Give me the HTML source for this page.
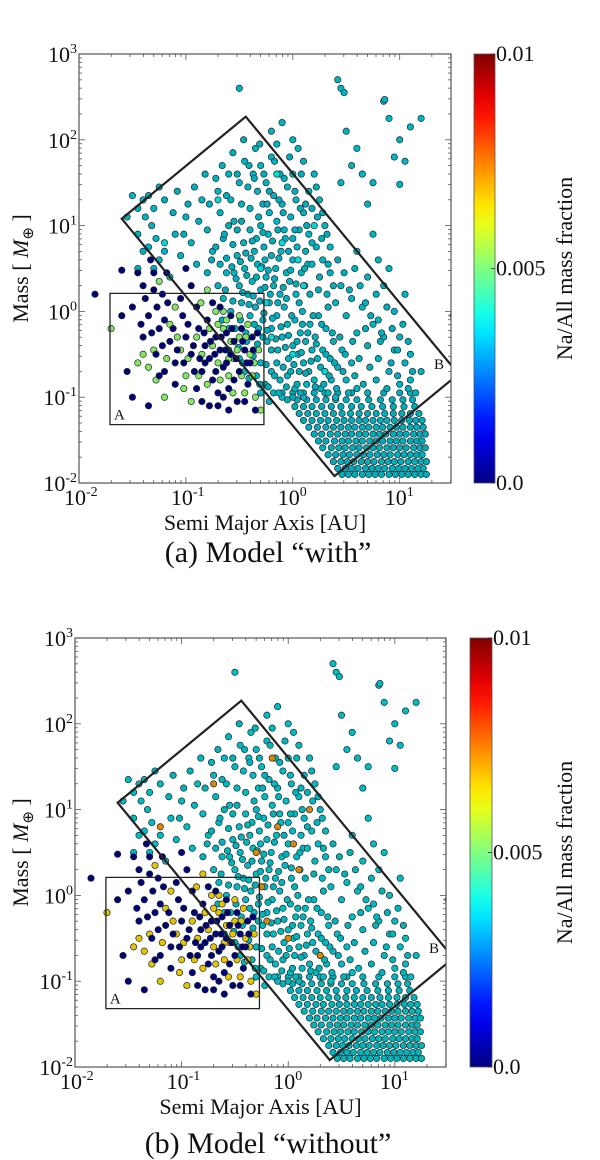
<!DOCTYPE html>
<html><head><meta charset="utf-8"><title>Planet population: Na/All mass fraction</title>
<style>
html,body{margin:0;padding:0;background:#fff;}
svg{display:block;}
text{font-family:"Liberation Serif",serif;fill:#111;}
</style></head>
<body>
<svg id="fig" width="600" height="1160" viewBox="0 0 600 1160" xmlns="http://www.w3.org/2000/svg"></svg>
<script>
// ---------- data (log10 semi-major axis [AU], log10 mass [M_earth]) ----------
const xTicks = [-2, -1, 0, 1];
const yTicks = [-2, -1, 0, 1, 2, 3];
const cbTickValues = [0.0, 0.005, 0.01];
const cbTickLabels = ["0.0", "0.005", "0.01"];
const panelCaptions = ["(a) Model \u201cwith\u201d", "(b) Model \u201cwithout\u201d"];

// dense low-mass block (rows of constant log mass)
const blockMass = [-1.90,-1.83,-1.75,-1.67,-1.59,-1.51,-1.43,-1.35,-1.27,-1.19,-1.11,-1.03,-0.95];
const blockAxis = [
 [.46,.52,.58,.65,.71,.77,.83,.90,.96,1.02,1.08,1.14,1.20,1.25],
 [.42,.49,.55,.61,.68,.74,.80,.86,.93,.99,1.05,1.11,1.17,1.22],
 [.38,.45,.51,.57,.64,.70,.76,.83,.89,.95,1.01,1.08,1.14,1.20,1.25],
 [.33,.40,.47,.53,.60,.66,.72,.79,.85,.91,.98,1.04,1.10,1.16,1.21],
 [.28,.36,.43,.49,.56,.62,.69,.75,.81,.88,.94,1.00,1.06,1.13,1.19,1.24],
 [.24,.31,.39,.46,.52,.59,.65,.72,.78,.84,.91,.97,1.03,1.10,1.16,1.21],
 [.20,.27,.35,.42,.49,.55,.62,.68,.75,.81,.87,.94,1.00,1.06,1.13,1.19,1.24],
 [.15,.23,.31,.38,.45,.52,.58,.65,.71,.78,.84,.91,.97,1.03,1.10,1.16,1.22],
 [.10,.18,.26,.33,.41,.48,.55,.62,.68,.75,.82,.88,.95,1.02,1.09,1.15,1.21],
 [.06,.14,.22,.30,.38,.46,.54,.62,.70,.78,.86,.94,1.02,1.10,1.18],
 [.02,.10,.18,.27,.36,.45,.55,.64,.74,.84,.94,1.04,1.14],
 [-.05,.04,.13,.22,.31,.40,.50,.60,.71,.82,.93,1.03,1.12],
 [-.1,.0,.1,.2,.3,.42,.55,.7,.85,1.0,1.1]
];
// cyan planets (diagonal band, upper region, outliers)
const cyanPlanets = [
[-0.55,0.45],[-0.5,0.3],[-0.45,0.5],[-0.42,0.2],[-0.38,0.35],[-0.35,0.05],[-0.33,0.55],[-0.3,0.25],[-0.28,-0.1],[-0.25,0.4],[-0.22,0.1],[-0.2,-0.2],[-0.18,0.3],[-0.15,-0.05],[-0.12,0.2],[-0.1,-0.3],[-0.08,0.05],[-0.05,-0.15],[-0.03,0.35],[0,-0.4],[0.02,-0.1],[0.05,-0.5],[0.07,-0.25],[0.1,-0.6],[0.12,-0.35],[0.15,-0.7],[0.18,-0.45],[0.2,-0.8],[0.23,-0.55],[0.26,-0.9],[0.3,-0.7],[0.33,-0.95],[0.36,-0.8],[0.4,-1.0],
[-0.48,0.1],[-0.4,-0.05],[-0.36,0.7],[-0.32,-0.2],[-0.26,0.6],[-0.24,-0.35],[-0.16,0.5],[-0.14,-0.45],[-0.06,0.45],[-0.04,-0.55],[0.03,0.2],[0.06,-0.7],[0.09,0.0],[0.13,-0.85],[0.16,-0.15],[0.21,-0.3],[0.24,-0.05],[0.28,-0.45],[0.31,-0.2],[0.35,-0.55],[0.38,-0.35],[0.42,-0.65],[0.46,-0.45],[0.5,-0.8],[0.55,-0.6],[0.6,-0.9],
[-0.52,0.65],[-0.46,0.8],[-0.4,0.95],[-0.34,0.85],[-0.3,1.0],[-0.27,0.75],[-0.23,0.9],[-0.2,0.65],[-0.11,0.7],[-0.07,0.85],[0.0,0.6],[0.04,0.75],[0.08,0.45],[0.11,0.3],[0.14,0.55],
[-0.7,0.3],[-0.65,0.15],[-0.62,0.45],[-0.58,0.0],[-0.6,-0.2],[-0.55,-0.35],[-0.5,-0.55],[-0.45,-0.7],[-0.44,-0.25],[-0.38,-0.5],[-0.34,-0.75],[-0.3,-0.6],[-0.26,-0.85],[-0.2,-0.7],[-0.18,-0.95],[-0.12,-0.8],[-0.1,-1.0],[-0.3,-0.95],[-0.22,-1.05],[-0.05,-0.75],[0.02,-0.9],[0.1,-1.0],
[-1.4,1.3],[-1.38,1.1],[-1.35,1.35],[-1.3,1.2],[-1.32,1.0],[-1.28,0.85],[-1.25,0.6],[-1.3,0.5],[-1.2,0.7],[-1.15,0.4],[-1.1,0.9],[-1.05,0.65],[-1.0,1.1],[-0.95,0.8],[-0.9,0.55],[-0.85,1.3],[-0.8,0.95],[-0.75,0.7],[-0.7,1.4],[-0.68,1.15],[-0.65,0.85],[-0.6,1.6],[-0.58,1.3],[-0.55,1.05],[-0.5,1.5],[-0.48,1.25],[-0.45,1.75],[-0.42,1.45],[-0.4,1.2],[-0.37,1.6],[-0.35,1.9],[-0.33,1.4],[-0.3,1.7],[-0.28,1.25],[-0.25,1.5],[-0.22,1.15],[-0.2,1.8],[-0.18,1.35],[-0.15,1.05],[-0.12,1.6],[-0.1,1.25],[-0.08,0.95],[-0.05,1.45],[-0.02,1.1],[0.0,0.85],[0.03,1.3],[0.06,0.95],[0.1,1.15],[0.12,0.7],[0.15,0.9],[0.18,0.55],[0.22,0.75],[0.25,0.4],[0.28,0.6],[0.32,0.2],[0.35,0.45],[0.4,0.1],[0.45,0.3],[0.5,-0.05],[0.55,0.15],[0.6,-0.25],[0.65,0.05],[0.7,-0.4],[0.75,-0.15],[0.8,-0.55],[0.85,-0.3],[0.9,-0.7],[0.95,-0.45],[1.0,-0.85],[1.05,-0.6],[1.1,-0.8],[1.15,-0.95],
[-1.5,1.35],[-1.45,1.2],[-1.55,1.1],[-1.45,0.9],[-1.4,0.7],[-1.45,0.5],[-1.35,0.75],
[-0.2,2.1],[-0.1,2.2],[0.0,2.0],[0.05,1.9],[0.1,1.75],[-0.15,1.95],[0.2,1.6],[0.25,1.3],[0.3,1.0],[0.35,0.75],[0.15,1.4],[0.0,1.6],
[0.5,2.1],[0.6,1.9],[0.55,1.7],[0.45,1.5],[0.65,1.6],[0.7,1.25],[0.75,0.9],[0.8,0.6],[0.85,0.3],[0.95,0.0],[1.0,-0.3],[1.1,-0.5],[1.2,-0.7],[0.9,2.25],[1.0,2.0],[0.95,1.8],[1.0,1.48],[1.05,1.75],[1.1,2.15],[1.2,2.25],[0.45,2.6],[0.48,2.55],[0.42,2.7],[0.85,2.45],[0.86,2.47],[-0.5,2.6],[1.5,-0.05],[0.7,0.4],[0.6,0.7],[0.9,0.5],[1.05,0.2],[0.8,-0.1],[0.75,1.5]
];
// extra band planets (dense diagonal ridge)
const bandPlanets = [
[-0.62,0.62],[-0.57,0.52],[-0.53,0.38],[-0.49,0.58],[-0.47,0.22],[-0.43,0.42],[-0.41,0.08],[-0.39,0.62],[-0.37,0.18],[-0.36,-0.15],[-0.34,0.4],[-0.31,0.12],[-0.29,0.52],[-0.27,-0.02],[-0.26,0.28],[-0.24,-0.22],[-0.23,0.48],[-0.21,0.2],[-0.19,-0.08],[-0.17,0.38],[-0.16,-0.32],[-0.14,0.1],[-0.13,0.62],[-0.11,-0.18],[-0.09,0.28],[-0.07,-0.42],[-0.06,0.15],[-0.04,-0.28],[-0.02,0.48],[-0.01,-0.05],[0.01,-0.62],[0.03,0.32],[0.04,-0.35],[0.06,0.1],[0.08,-0.48],[0.09,-0.15],[0.11,0.5],[0.12,-0.72],[0.14,-0.25],[0.16,0.2],[0.17,-0.58],[0.19,-0.05],[0.21,-0.88],[0.22,-0.38],[0.24,0.25],[0.26,-0.65],[0.27,-0.15],[0.29,-0.85],[0.31,-0.5],[0.33,0.05],[0.34,-0.75],[0.37,-0.25],[0.39,-0.6],[0.41,-0.9],[0.44,-0.3],[0.47,-0.7],[0.49,-0.5],[0.52,-0.95],[0.56,-0.35],[0.58,-0.75],[0.62,-0.55],[0.66,-0.85],[0.68,-0.2],[0.72,-0.65],[0.78,-0.8],[0.82,-0.35],[0.88,-0.9],[0.92,-0.6],[0.98,-0.75],[1.08,-0.9],[1.12,-0.7],
[-0.66,-0.1],[-0.63,0.25],[-0.6,-0.45],[-0.56,0.12],[-0.54,-0.2],[-0.51,-0.42],[-0.49,-0.1],[-0.47,-0.6],[-0.43,-0.35],[-0.41,-0.78],[-0.37,-0.52],[-0.33,-0.38],[-0.31,-0.85],[-0.28,-0.3],[-0.25,-0.62],[-0.23,-0.88],[-0.2,-0.45],[-0.17,-0.75],[-0.15,-0.6],[-0.13,-0.95],[-0.09,-0.65],[-0.06,-0.88],[-0.02,-0.7],[0.0,-1.0],[0.04,-0.85],[0.07,-0.95],
[-0.8,0.45],[-0.76,0.6],[-0.72,0.75],[-0.68,0.55],[-0.64,0.9],[-0.6,1.0],[-0.56,0.78],[-0.52,0.95],[-0.48,1.05],[-0.44,0.68],[-0.38,0.82],[-0.32,1.1],[-0.28,0.92],[-0.24,1.25],[-0.19,0.82],[-0.14,0.95],[-0.09,1.15],[-0.04,0.7],[0.02,0.95],[0.07,1.2],[0.13,1.0],[0.18,0.8],[0.23,1.1],[0.27,0.85],[0.33,0.55],[0.38,0.3],[0.42,0.6],[0.48,0.45],[0.53,0.25],[0.58,0.5],[0.63,0.3],[0.68,0.1],[0.73,-0.05],[0.78,0.2],[0.83,-0.25],[0.88,0.05],[0.93,-0.2],[0.98,-0.45],[1.03,-0.15],[1.08,-0.35],
[-1.25,1.45],[-1.2,1.3],[-1.12,1.15],[-1.08,1.4],[-1.02,0.9],[-0.98,1.25],[-0.92,1.45],[-0.88,1.05],[-0.82,1.6],[-0.78,1.25],[-0.72,1.55],[-0.66,1.7],[-0.62,1.35],[-0.56,1.85],[-0.52,1.6],[-0.46,2.0],[-0.41,1.7],[-0.36,1.55],[-0.31,1.95],[-0.27,1.6],[-0.22,1.4],[-0.17,1.75],[-0.13,1.3],[-0.08,1.55],[-0.03,1.8],[0.02,1.4],[0.08,1.6],[0.12,1.25],[0.18,1.2],[0.22,1.45],[0.28,1.15],[0.32,0.9]
];
// planets with no Na (dark blue) in region A
const bluePlanets = [
[-1.85,0.2],[-1.6,-0.05],[-1.55,-0.7],[-1.5,-1.0],[-1.45,0.45],[-1.4,-0.3],[-1.35,-0.05],[-1.3,0.25],[-1.28,-0.5],[-1.25,-0.2],[-1.2,-0.1],[-1.15,-0.35],[-1.1,-0.6],[-1.05,0.15],[-1.0,-0.3],[-0.95,-0.5],[-0.9,-0.9],[-0.88,-0.2],[-0.85,-0.7],[-0.82,-0.4],[-0.8,-0.1],[-0.78,-0.55],[-0.75,-0.8],[-0.72,-0.3],[-0.7,-1.1],[-0.68,-0.45],[-0.65,-0.65],[-0.62,-0.25],[-0.6,-0.9],[-0.58,-0.5],[-0.55,-0.35],[-0.52,-1.05],[-0.5,-0.7],[-0.48,-0.2],[-0.45,-0.45],[-0.42,-0.85],[-0.4,-0.6],[-0.38,-0.3],[-0.35,-1.15],[-0.9,0.05],[-1.18,0.45],[-1.0,0.5],[-0.95,0.3],[-0.75,0.1],[-1.22,0.2],[-1.33,0.6],[-1.25,-0.75],[-0.7,-0.95],[-0.6,-1.15],[-0.85,-1.05],[-1.6,0.48],[-1.1,-0.85],
[-1.5,0.05],[-1.42,-0.15],[-1.38,0.15],[-1.32,-0.25],[-1.27,0.05],[-1.22,-0.4],[-1.17,0.1],[-1.12,-0.2],[-1.08,-0.45],[-1.03,-0.05],[-0.98,-0.15],[-0.93,-0.4],[-0.87,-0.55],[-0.83,-0.25],[-0.77,-0.35],[-0.73,-0.5],[-0.67,-0.3],[-0.63,-0.45],[-0.57,-0.2],[-0.53,-0.55],[-0.47,-0.35],[-0.43,-0.6],[-0.37,-0.45],[-0.33,-0.25],[-0.62,-0.6],[-0.72,-0.7],[-0.82,-0.6],[-0.92,-0.7],[-1.02,-0.6],[-0.55,-0.8],[-0.45,-1.05],[-0.65,-1.0],[-0.78,-1.1],[-1.2,-0.7],[-1.35,-1.1],[-1.4,0.3],[-1.3,0.45],[-0.58,-0.05],[-0.68,0.05]
];
// planets that are green in "with" and yellow in "without"
const greenPlanets = [
[-1.7,-0.2],[-1.45,-0.6],[-1.35,-0.65],[-1.3,-0.45],[-1.2,-1.0],[-1.15,-0.15],[-1.05,-0.45],[-1.0,-0.75],[-0.95,-1.05],[-0.9,-0.3],[-0.85,-0.5],[-0.8,-0.85],[-0.75,-0.4],[-0.7,-0.6],[-0.65,-0.2],[-0.6,-0.75],[-0.55,-0.55],[-0.5,-0.3],[-0.45,-0.95],[-0.42,-0.15],[-0.38,-0.75],[-0.35,-1.0],[-0.32,-0.45],[-0.3,-1.15],[-1.1,0.05],[-0.8,0.25],[-0.65,0.0],[-0.5,-0.05],[-0.7,-0.15],[-0.58,-0.35],[-1.25,0.35],[-0.4,-0.5],
[-1.4,-0.5],[-1.28,-0.8],[-1.18,-0.55],[-1.08,-0.3],[-0.98,-0.55],[-0.88,-0.75],[-0.78,-0.2],[-0.68,-0.8],[-0.6,-0.55],[-0.52,-0.45],[-0.44,-0.3],[-0.36,-0.6],[-0.62,-0.1],[-0.72,0.0],[-0.56,-0.95],[-0.48,-0.75],[-0.86,0.1],[-1.02,-0.9]
];
// planets cyan in "with", orange in "without"
const mixedPlanets = [
[-0.3,0.5],[-0.2,-0.3],[-0.1,0.8],[0.1,0.3],[-1.2,0.8],[-0.7,1.3],[0.0,-0.5],[-0.15,1.6],[0.05,0.6],[0.3,-0.7],[-0.25,0.1],[0.2,1.0]
];
// Na/All value per group: [model with, model without]
const cyanValue = [0.0036, 0.0037];
const blueValue = [0.0, 0.0];
const greenValue = [0.0052, 0.0066];
const mixedValue = [0.0038, 0.0072];
// region outlines (log a, log M)
const regionA = [[-1.71,0.21],[-0.27,0.21],[-0.27,-1.32],[-1.71,-1.32]];
const regionB = [[-1.6,1.08],[-0.44,2.27],[1.55,-0.73],[0.39,-1.92]];

// ---------- drawing ----------
const NS = "http://www.w3.org/2000/svg";
const fig = document.getElementById("fig");
function mk(tag, attrs, parent){const e=document.createElementNS(NS,tag);for(const k in attrs)e.setAttribute(k,attrs[k]);(parent||fig).appendChild(e);return e;}
function jet(v){const x=Math.max(0,Math.min(1,v/0.01));const c=t=>Math.max(0,Math.min(1,1.5-Math.abs(4*x-t)));return [c(3),c(2),c(1)];}
function col(v,shade){const [r,g,b]=jet(v);const s=shade||1;return `rgb(${Math.round(r*255*s)},${Math.round(g*255*s)},${Math.round(b*255*s)})`;}

const panels = [
 {L:79,R:451,T:54,B:483,cbL:474,cbR:495,xl:530,cap:562},
 {L:75,R:446,T:638,B:1067,cbL:470,cbR:492,xl:1114,cap:1153}
];
const XMIN=-2,XMAX=1.48,YMIN=-2,YMAX=3;

panels.forEach((p,pi)=>{
 const g = mk("g",{});
 
 
 const sx=v=>p.L+(v-XMIN)/(XMAX-XMIN)*(p.R-p.L);
 const sy=v=>p.B-(v-YMIN)/(YMAX-YMIN)*(p.B-p.T);
 const clipId="clip"+pi;
 const cp=mk("clipPath",{id:clipId},g);mk("rect",{x:p.L,y:p.T,width:p.R-p.L,height:p.B-p.T},cp);
 const pts=mk("g",{"clip-path":`url(#${clipId})`},g);
 
 
 function dot(a,m,v,shade){
  const c=mk("circle",{cx:sx(a).toFixed(1),cy:sy(m).toFixed(1),r:3.2,fill:col(v,shade),stroke:"#1d2a33","stroke-width":0.7},pts);
  
  
 }
 blockMass.forEach((m,i)=>blockAxis[i].forEach(a=>dot(a,m,cyanValue[pi],0.72)));
 cyanPlanets.forEach(([a,m])=>dot(a,m,cyanValue[pi],0.75));
 bandPlanets.forEach(([a,m])=>dot(a,m,cyanValue[pi],0.72));
 mixedPlanets.forEach(([a,m])=>dot(a,m,mixedValue[pi],0.85));
 greenPlanets.forEach(([a,m])=>dot(a,m,greenValue[pi],0.9));
 bluePlanets.forEach(([a,m])=>dot(a,m,blueValue[pi],0.9));
 // regions
 const pa=mk("polygon",{points:regionA.map(([a,m])=>sx(a)+","+sy(m)).join(" "),fill:"none",stroke:"#222","stroke-width":1.3},g);
 
 
 const pb=mk("polygon",{points:regionB.map(([a,m])=>sx(a)+","+sy(m)).join(" "),fill:"none",stroke:"#222","stroke-width":2.2,"clip-path":`url(#${clipId})`},g);
 
 
 const ta=mk("text",{x:sx(-1.71)+4,y:sy(-1.32)-5,"font-size":15},g);ta.textContent="A";
 
 
 const tb=mk("text",{x:p.R-17,y:sy(-0.6)+6,"font-size":15},g);tb.textContent="B";
 
 
 // frame
 const fr=mk("rect",{x:p.L,y:p.T,width:p.R-p.L,height:p.B-p.T,fill:"none",stroke:"#555","stroke-width":1.2},g);
 
 
 // ticks
 for(let d=-2;d<2;d++)for(let k=1;k<10;k++){const v=d+Math.log10(k);if(v>XMAX)continue;const x=sx(v);const len=k===1?6:3;
  mk("line",{x1:x,y1:p.B,x2:x,y2:p.B-len,stroke:"#555","stroke-width":0.8},g);mk("line",{x1:x,y1:p.T,x2:x,y2:p.T+len,stroke:"#555","stroke-width":0.8},g);}
 for(let d=-2;d<3;d++)for(let k=1;k<10;k++){const y=sy(d+Math.log10(k));const len=k===1?6:3;
  mk("line",{x1:p.L,y1:y,x2:p.L+len,y2:y,stroke:"#555","stroke-width":0.8},g);mk("line",{x1:p.R,y1:y,x2:p.R-len,y2:y,stroke:"#555","stroke-width":0.8},g);}
 xTicks.forEach(v=>{const t=mk("text",{x:sx(v)-15,y:p.B+22,"font-size":22},g);
  
  
  t.appendChild(document.createTextNode("10"));const s=mk("tspan",{dy:-9,"font-size":14},t);s.textContent=String(v);});
 yTicks.forEach(v=>{const t=mk("text",{x:p.L-2,y:sy(v)+8,"font-size":22,"text-anchor":"end"},g);
  
  
  t.appendChild(document.createTextNode("10"));const s=mk("tspan",{dy:-9,"font-size":14},t);s.textContent=String(v);});
 // axis labels
 const xl=mk("text",{x:(p.L+p.R)/2,y:p.xl,"font-size":22,"text-anchor":"middle"},g);xl.textContent="Semi Major Axis [AU]";
 
 
 const yl=mk("text",{x:0,y:0,"font-size":22,"text-anchor":"middle",transform:`translate(28,${(p.T+p.B)/2}) rotate(-90)`},g);
 
 
 yl.appendChild(document.createTextNode("Mass [ "));const mi=mk("tspan",{"font-style":"italic"},yl);mi.textContent="M";
 const sb=mk("tspan",{dy:5,"font-size":15},yl);sb.textContent="\u2295";const cl=mk("tspan",{dy:-5},yl);cl.textContent=" ]";
 // colorbar
 const gid="grad"+pi;const lg=mk("linearGradient",{id:gid,x1:0,y1:1,x2:0,y2:0},g);
 for(let i=0;i<=20;i++){mk("stop",{offset:i/20,"stop-color":col(i/20*0.01)},lg);}
 const cb=mk("rect",{x:p.cbL,y:p.T,width:p.cbR-p.cbL,height:p.B-p.T,fill:`url(#${gid})`,stroke:"#555","stroke-width":0.8},g);
 
 
 cbTickValues.forEach((v,i)=>{const y=p.B-v/0.01*(p.B-p.T);
  mk("line",{x1:p.cbR-4,y1:y,x2:p.cbR,y2:y,stroke:"#333","stroke-width":0.8},g);
  const t=mk("text",{x:p.cbR+1,y:y+7,"font-size":22},g);t.textContent=cbTickLabels[i];
  
  });
 const cbl=mk("text",{x:0,y:0,"font-size":22,"text-anchor":"middle",transform:`translate(572,${(p.T+p.B)/2}) rotate(-90)`},g);
 cbl.textContent="Na/All mass fraction";
 
 
 const cap=mk("text",{x:268,y:p.cap,"font-size":30,"text-anchor":"middle"},g);cap.textContent=panelCaptions[pi];
 
 
});
</script>
</body></html>
